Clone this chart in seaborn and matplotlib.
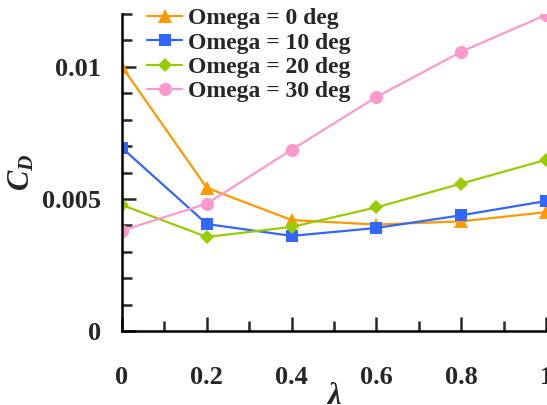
import numpy as np
import pandas as pd
import matplotlib
matplotlib.use("Agg")
import matplotlib.pyplot as plt
from matplotlib.ticker import MultipleLocator
import seaborn as sns

# Tip-speed ratio values
lam = [0.0, 0.2, 0.4, 0.6, 0.8, 1.0]
x_tick_labels = ["0", "0.2", "0.4", "0.6", "0.8", "1"]
y_ticks = [0, 0.005, 0.01]
y_tick_labels = ["0", "0.005", "0.01"]

# Drag coefficient for each rotation angle
cd_omega0 = [0.0100, 0.00542, 0.00420, 0.00403, 0.00415, 0.00450]
cd_omega10 = [0.00693, 0.00405, 0.00360, 0.00390, 0.00438, 0.00492]
cd_omega20 = [0.00477, 0.00356, 0.00394, 0.00468, 0.00558, 0.00648]
cd_omega30 = [0.00380, 0.00482, 0.00686, 0.00886, 0.01057, 0.01197]

series_names = ["Omega = 0 deg", "Omega = 10 deg", "Omega = 20 deg", "Omega = 30 deg"]
series_values = [cd_omega0, cd_omega10, cd_omega20, cd_omega30]

colors = ["#FF9900", "#3366FF", "#99CC00", "#FF99CC"]
markers = ["^", "s", "D", "o"]
marker_sizes = [9.5, 9, 7.5, 9.5]

df = pd.DataFrame({
    "lambda": np.tile(lam, len(series_names)),
    "CD": np.concatenate(series_values),
    "series": np.repeat(series_names, len(lam)),
})

sns.set_style("ticks")
plt.rcParams["font.family"] = ["Liberation Serif", "DejaVu Serif"]
plt.rcParams["font.weight"] = "bold"
plt.rcParams["mathtext.fontset"] = "custom"
plt.rcParams["mathtext.it"] = "Liberation Serif:italic:bold"
plt.rcParams["mathtext.rm"] = "Liberation Serif:bold"

fig = plt.figure(figsize=(5.47, 4.05), dpi=100)
ax = fig.add_axes([122 / 547, (405 - 331) / 405, (546 - 122) / 547, (331 - 14) / 405])

sns.lineplot(
    data=df, x="lambda", y="CD", hue="series", style="series",
    palette=dict(zip(series_names, colors)),
    markers=dict(zip(series_names, markers)),
    dashes=False, markersize=9, markeredgewidth=0, linewidth=1.6,
    ax=ax, legend=True,
)

# per-series marker sizes (diamonds drawn a little smaller)
size_by_color = {matplotlib.colors.to_hex(c): s for c, s in zip(colors, marker_sizes)}
for ln in ax.lines:
    key = matplotlib.colors.to_hex(ln.get_color())
    if key in size_by_color:
        ln.set_markersize(size_by_color[key])

ax.set_xlim(0, 1)
ax.set_ylim(0, 0.012)
ax.set_xticks(lam)
ax.set_xticklabels(x_tick_labels)
ax.xaxis.set_minor_locator(MultipleLocator(0.1))
ax.set_yticks(y_ticks)
ax.set_yticklabels(y_tick_labels)
ax.yaxis.set_minor_locator(MultipleLocator(0.001))
ax.tick_params(axis="both", which="major", direction="in", length=10, width=1.8,
               labelsize=19)
ax.tick_params(axis="both", which="minor", direction="in", length=7, width=1.8)
ax.tick_params(axis="y", which="major", pad=15)
ax.tick_params(axis="x", which="major", pad=25)
for lbl in ax.get_xticklabels() + ax.get_yticklabels():
    lbl.set_fontweight("bold")

for side in ("top", "right"):
    ax.spines[side].set_visible(False)
for side in ("left", "bottom"):
    ax.spines[side].set_linewidth(1.8)
    ax.spines[side].set_color("black")

ax.set_xlabel(r"$\lambda$", fontsize=22, labelpad=-5)
ax.set_ylabel(r"$C_D$", fontsize=22, labelpad=4)

leg = ax.legend(loc="upper left", bbox_to_anchor=(0.06, 1.02), frameon=False,
                fontsize=17, handlelength=1.45, handletextpad=0.25,
                labelspacing=0.12, borderaxespad=0, borderpad=0)
for t in leg.get_texts():
    t.set_fontweight("bold")
for h, s in zip(leg.legend_handles, marker_sizes):
    h.set_markersize(s)

fig.savefig("out.png", dpi=100)
